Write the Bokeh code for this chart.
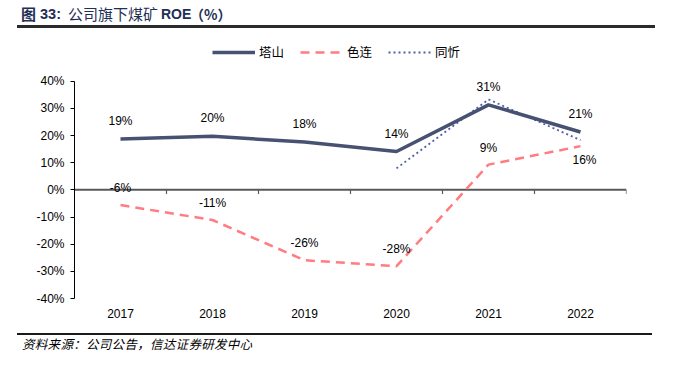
from bokeh.plotting import figure
from bokeh.models import (Range1d, FixedTicker, Legend, LegendItem, Div, CustomJSTickFormatter)
from bokeh.layouts import column
from bokeh.core.properties import value
from bokeh.embed import file_html
from bokeh.resources import INLINE

years = ["2017", "2018", "2019", "2020", "2021", "2022"]
tashan = [18.7, 19.7, 17.6, 14.1, 31.3, 21.3]
selian = [-5.6, -11.1, -25.9, -28.1, 9.3, 16.1]
tongxin_years = ["2020", "2021", "2022"]
tongxin = [7.9, 33.3, 18.3]
selian_label_side = ["above", "above", "above", "above", "above", "below"]
y_ticks = [-40, -30, -20, -10, 0, 10, 20, 30, 40]
series_names = ["塔山", "色连", "同忻"]

title_parts = ["图", "33:", "公司旗下煤矿", "ROE", "（%）"]
source_text = "资料来源：公司公告，信达证券研发中心"

LAT = "Liberation Sans"
CJK = "Noto Sans CJK SC"

xpos = [i + 0.5 for i in range(len(years))]
tx_pos = [years.index(y) + 0.5 for y in tongxin_years]

W = 675
TITLE_H, FIG_H, FOOT_H = 28, 300, 22
frame_h = 270
y_top = -40 + frame_h / 2.716

p = figure(width=W, height=FIG_H, output_backend="svg", toolbar_location=None,
           x_range=Range1d(0, len(years)), y_range=Range1d(-40, y_top),
           min_border_left=74, min_border_right=W - 626, min_border_top=0,
           min_border_bottom=FIG_H - frame_h)
p.outline_line_color = None
p.xgrid.visible = False
p.ygrid.visible = False

ya = p.yaxis[0]
ya.ticker = FixedTicker(ticks=y_ticks)
ya.bounds = (y_ticks[0], y_ticks[-1])
ya.formatter = CustomJSTickFormatter(code="return tick.toFixed(0) + '%';")
ya.axis_line_color = "black"
ya.major_tick_line_color = "black"
ya.major_tick_out = 4
ya.major_tick_in = 0
ya.minor_tick_line_color = None
ya.major_label_text_font = LAT
ya.major_label_text_font_size = "12px"
ya.major_label_text_color = "black"
ya.major_label_standoff = 6

xa = p.xaxis[0]
xa.ticker = FixedTicker(ticks=xpos)
xa.major_label_overrides = {x: y for x, y in zip(xpos, years)}
xa.axis_line_color = None
xa.major_tick_line_color = None
xa.minor_tick_line_color = None
xa.major_label_text_font = LAT
xa.major_label_text_font_size = "12px"
xa.major_label_text_color = "black"
xa.major_label_standoff = 4

p.segment(x0=[0], y0=[0], x1=[len(years)], y1=[0], line_color="#595959", line_width=2)
bx = [float(i) for i in range(1, len(years) + 1)]
p.segment(x0=bx, y0=[0] * len(bx), x1=bx, y1=[-1.5] * len(bx), line_color="#595959", line_width=1.2)

c_ts = "#475273"
c_sl = "#FF7C80"
c_tx = "#4F60A0"

r_sl = p.line(xpos, selian, line_color=c_sl, line_width=2.5, line_dash="9 6")
r_tx = p.line(tx_pos, tongxin, line_color=c_tx, line_width=1.8, line_dash="2 3")
r_ts = p.line(xpos, tashan, line_color=c_ts, line_width=3.5)

def fmt(v):
    return f"{round(v)}%"

p.text(x=xpos, y=tashan, text=[fmt(v) for v in tashan], y_offset=-18,
       text_align="center", text_baseline="middle", text_font=value(LAT),
       text_font_size="12px", text_color="black")
sl_off = [-17 if s == "above" else 14 for s in selian_label_side]
sl_xoff = [0 if s == "above" else 4 for s in selian_label_side]
p.text(x=xpos, y=selian, text=[fmt(v) for v in selian], y_offset=sl_off, x_offset=sl_xoff,
       text_align="center", text_baseline="middle", text_font=value(LAT),
       text_font_size="12px", text_color="black")

legend = Legend(items=[LegendItem(label=series_names[0], renderers=[r_ts]),
                       LegendItem(label=series_names[1], renderers=[r_sl]),
                       LegendItem(label=series_names[2], renderers=[r_tx])],
                orientation="horizontal", location=(138, 237),
                glyph_width=43, glyph_height=16, label_standoff=4, spacing=16,
                padding=0, margin=0, border_line_color=None, background_fill_alpha=0,
                label_text_font=CJK, label_text_font_size="12.5px", label_text_color="black")
p.add_layout(legend, "center")

navy = "#1F2F55"
def span(txt, left, font, size, weight, lh=20):
    top = 13.5 - lh / 2
    return (f'<span style="position:absolute;left:{left}px;top:{top}px;font-family:\'{font}\';'
            f'font-size:{size}px;font-weight:{weight};line-height:{lh}px;color:{navy};'
            f'white-space:nowrap;">{txt}</span>')

title_html = ('<div style="position:relative;width:675px;height:28px;margin:0;padding:0;">'
              + span(title_parts[0], 21, CJK, 15, "bold")
              + span(title_parts[1], 40, LAT, 14.5, "bold")
              + span(title_parts[2], 68, CJK, 15, "normal")
              + span(title_parts[3], 161, LAT, 14, "bold")
              + span(title_parts[4], 190, CJK, 14, "bold")
              + '<div style="position:absolute;left:17px;top:25px;width:638px;height:2.5px;background:#2b2b2b;"></div>'
              + '</div>')
title_div = Div(text=title_html, width=W, height=TITLE_H, margin=0)

foot_html = ('<div style="position:relative;width:675px;height:22px;margin:0;padding:0;">'
             '<div style="position:absolute;left:17px;top:5px;width:635px;height:2px;background:#1a1a1a;"></div>'
             f'<span style="position:absolute;left:22px;top:8px;font-family:\'{CJK}\';font-size:12.5px;'
             'font-style:italic;line-height:16px;color:black;letter-spacing:0.3px;white-space:nowrap;">'
             f'{source_text}</span></div>')
foot_div = Div(text=foot_html, width=W, height=FOOT_H, margin=0)

layout = column(title_div, p, foot_div, spacing=0)
open("out.html", "w").write(file_html(layout, INLINE))
